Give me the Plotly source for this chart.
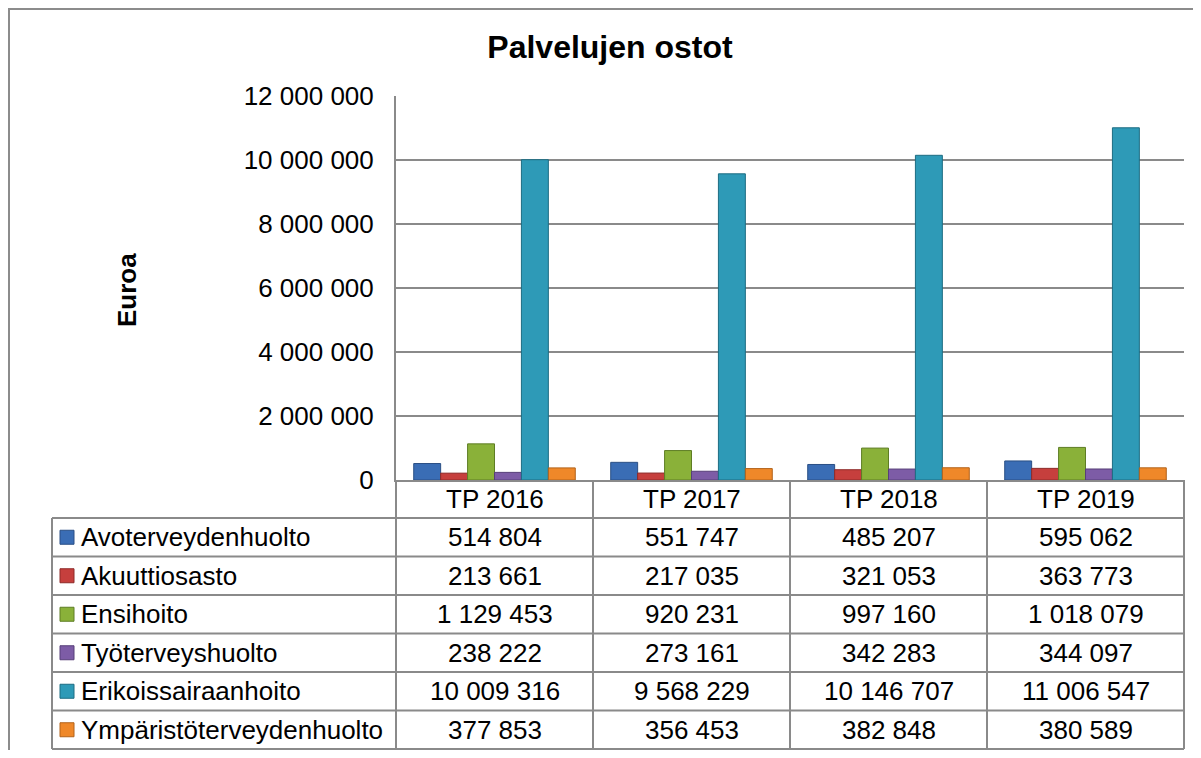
import plotly.graph_objects as go

# ---------------- data ----------------
categories = ["TP 2016", "TP 2017", "TP 2018", "TP 2019"]
series_names = ["Avoterveydenhuolto", "Akuuttiosasto", "Ensihoito",
                "Työterveyshuolto", "Erikoissairaanhoito", "Ympäristöterveydenhuolto"]
avoterveydenhuolto = [514804, 551747, 485207, 595062]
akuuttiosasto = [213661, 217035, 321053, 363773]
ensihoito = [1129453, 920231, 997160, 1018079]
tyoterveyshuolto = [238222, 273161, 342283, 344097]
erikoissairaanhoito = [10009316, 9568229, 10146707, 11006547]
ymparistoterveydenhuolto = [377853, 356453, 382848, 380589]
series_values = [avoterveydenhuolto, akuuttiosasto, ensihoito,
                 tyoterveyshuolto, erikoissairaanhoito, ymparistoterveydenhuolto]
y_ticks = [0, 2000000, 4000000, 6000000, 8000000, 10000000, 12000000]

colors = ["#3A6DB5", "#C63F3D", "#8AB139", "#7D5CA6", "#2E9AB7", "#EF8829"]
edge_colors = ["#2A4F85", "#8E2A28", "#5E7D24", "#573F78", "#1D6C82", "#B2621A"]

# page offset of the figure (browser body margin); keep page free of scrollbars
OFF = 8
W, H = 1201 - 2 * OFF, 758 - 2 * OFF
def px(x):
    return (x - OFF) / W
def py(y):
    return 1 - (y - OFF) / H

PLOT_L, PLOT_R, PLOT_T, PLOT_B = 396, 1184, 96, 480
TABLE_L = 52
ROW_TOP = 518
ROW_BOTTOM = 749
n_rows = len(series_names)
row_h = (ROW_BOTTOM - ROW_TOP) / n_rows
GRID = "#8A8A8A"
FONT = "Liberation Sans, Arial, sans-serif"

fig = go.Figure()
for name, vals, c, ec in zip(series_names, series_values, colors, edge_colors):
    fig.add_trace(go.Bar(name=name, x=categories, y=vals,
                         marker=dict(color=c, line=dict(color=ec, width=1)),
                         showlegend=False))

shapes = []
line = dict(color=GRID, width=2)
# outer chart border (top and left visible)
shapes.append(dict(type="rect", xref="paper", yref="paper",
                   x0=px(9), x1=px(1215), y0=py(9), y1=py(775),
                   line=dict(color="#8C8C8C", width=2), layer="below"))
# table horizontal lines
for i in range(n_rows + 1):
    yy = ROW_TOP + i * row_h
    shapes.append(dict(type="line", xref="paper", yref="paper",
                       x0=px(TABLE_L), x1=px(PLOT_R), y0=py(yy), y1=py(yy), line=line))
# table left border
shapes.append(dict(type="line", xref="paper", yref="paper",
                   x0=px(TABLE_L), x1=px(TABLE_L), y0=py(ROW_TOP), y1=py(ROW_BOTTOM), line=line))
# table vertical lines (category separators)
ncat = len(categories)
for j in range(ncat + 1):
    xx = PLOT_L + j * (PLOT_R - PLOT_L) / ncat
    shapes.append(dict(type="line", xref="paper", yref="paper",
                       x0=px(xx), x1=px(xx), y0=py(PLOT_B), y1=py(ROW_BOTTOM), line=line))

annotations = []
# category header row
for cat in categories:
    annotations.append(dict(x=cat, xref="x", y=py((PLOT_B + ROW_TOP) / 2), yref="paper",
                            text=cat, showarrow=False, xanchor="center", yanchor="middle",
                            font=dict(size=26, color="#000000", family=FONT)))
# data rows
for i, (name, vals, c, ec) in enumerate(zip(series_names, series_values, colors, edge_colors)):
    yc = ROW_TOP + (i + 0.5) * row_h
    shapes.append(dict(type="rect", xref="paper", yref="paper",
                       x0=px(60), x1=px(74), y0=py(yc - 7), y1=py(yc + 7),
                       fillcolor=c, line=dict(color=ec, width=1)))
    annotations.append(dict(x=px(79), xref="paper", y=py(yc), yref="paper",
                            text=name, showarrow=False, xanchor="left", yanchor="middle",
                            font=dict(size=26, color="#000000", family=FONT)))
    for cat, v in zip(categories, vals):
        annotations.append(dict(x=cat, xref="x", y=py(yc), yref="paper",
                                text=f"{v:,}".replace(",", " "), showarrow=False,
                                xanchor="center", yanchor="middle",
                                font=dict(size=26, color="#000000", family=FONT)))

# y-axis title
annotations.append(dict(x=px(127), xref="paper", y=py(290), yref="paper",
                        text="<b>Euroa</b>", textangle=-90, showarrow=False,
                        xanchor="center", yanchor="middle",
                        font=dict(size=26, color="#000000", family=FONT)))

fig.update_layout(
    width=W, height=H, autosize=False,
    margin=dict(l=0, r=0, t=0, b=0, pad=0),
    paper_bgcolor="white", plot_bgcolor="white",
    barmode="group", bargap=0.18, bargroupgap=0,
    separators=", ",
    font=dict(family=FONT, size=26, color="#000000"),
    title=dict(text="<b>Palvelujen ostot</b>", x=px(610), xanchor="center",
               y=py(47), yanchor="middle", font=dict(size=32, color="#000000", family=FONT)),
    xaxis=dict(domain=[px(PLOT_L), px(PLOT_R)], showticklabels=False, showgrid=False,
               showline=True, linecolor=GRID, linewidth=2, ticks="", zeroline=False,
               automargin=False),
    yaxis=dict(domain=[py(PLOT_B), py(PLOT_T)], range=[0, 12000000], tickvals=y_ticks,
               tickformat=",d", showgrid=True, gridcolor=GRID, gridwidth=2,
               showline=True, linecolor=GRID, linewidth=2, zeroline=False,
               ticks="inside", ticklen=4, tickcolor=GRID, ticklabelstandoff=15,
               tickfont=dict(size=26, color="#000000", family=FONT),
               automargin=False),
    shapes=shapes,
    annotations=annotations,
)

fig.write_html("out.html")
